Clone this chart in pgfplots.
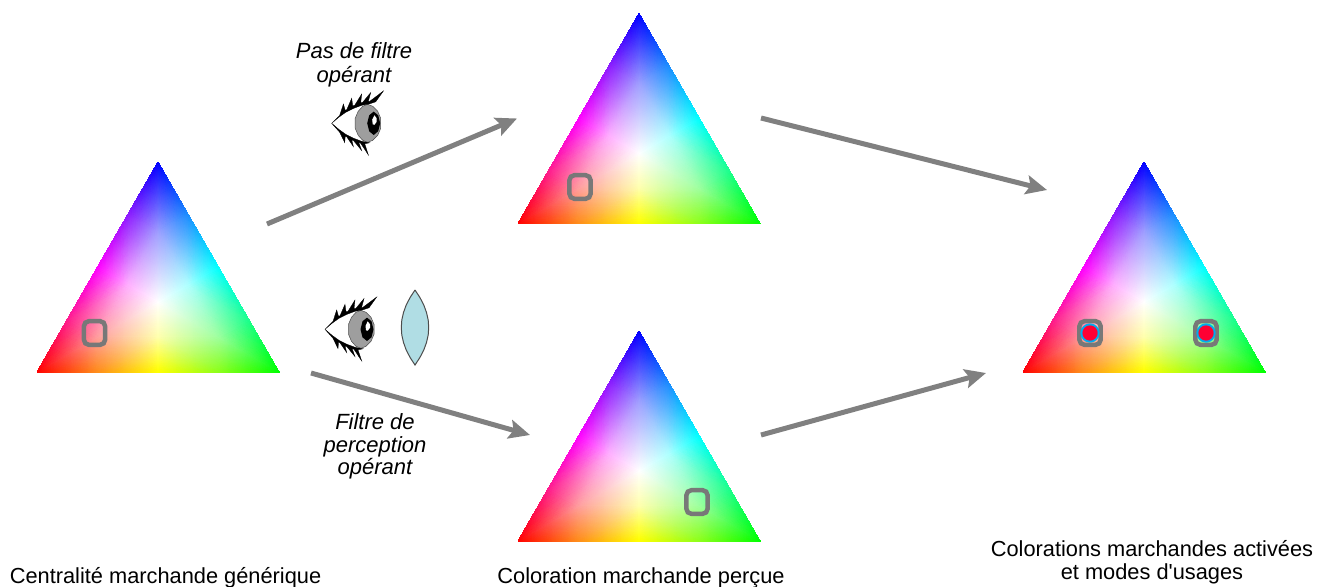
\documentclass[border=0pt]{standalone}
\usepackage{fontspec}
\setmainfont{Liberation Sans}
\usepackage{pgfplots}
\usepackage{pgfplotstable}
\pgfplotsset{compat=1.18}
\usetikzlibrary{arrows.meta}

\definecolor{arrowgray}{RGB}{128,128,128}
\definecolor{markgray}{RGB}{120,120,120}
\definecolor{lens}{RGB}{176,221,228}
\definecolor{dotred}{RGB}{255,0,51}

% colour triangle, relative to its centre (y pointing down)
% six sectors, each split in four: centre, ring, edge
\pgfplotstableread{
x y c
0 0 color=white
-60.5 35 rgb=1,.62,.62
0 35 rgb=1,1,.68
-60.5 35 rgb=1,.62,.62
-121 70 color=red
-60.5 70 rgb=1,.55,.1
-60.5 35 rgb=1,.62,.62
-60.5 70 rgb=1,.55,.1
0 35 rgb=1,1,.68
0 35 rgb=1,1,.68
-60.5 70 rgb=1,.55,.1
0 70 color=yellow
0 0 color=white
60.5 35 rgb=.62,1,.62
0 35 rgb=1,1,.68
60.5 35 rgb=.62,1,.62
121 70 color=green
60.5 70 rgb=.55,1,.1
60.5 35 rgb=.62,1,.62
60.5 70 rgb=.55,1,.1
0 35 rgb=1,1,.68
0 35 rgb=1,1,.68
60.5 70 rgb=.55,1,.1
0 70 color=yellow
0 0 color=white
60.5 35 rgb=.62,1,.62
30.25 -17.5 rgb=.68,1,1
60.5 35 rgb=.62,1,.62
121 70 color=green
90.75 17.5 rgb=.1,1,.55
60.5 35 rgb=.62,1,.62
90.75 17.5 rgb=.1,1,.55
30.25 -17.5 rgb=.68,1,1
30.25 -17.5 rgb=.68,1,1
90.75 17.5 rgb=.1,1,.55
60.5 -35 color=cyan
0 0 color=white
0 -70 rgb=.62,.62,1
30.25 -17.5 rgb=.68,1,1
0 -70 rgb=.62,.62,1
0 -140 color=blue
30.25 -87.5 rgb=.1,.55,1
0 -70 rgb=.62,.62,1
30.25 -87.5 rgb=.1,.55,1
30.25 -17.5 rgb=.68,1,1
30.25 -17.5 rgb=.68,1,1
30.25 -87.5 rgb=.1,.55,1
60.5 -35 color=cyan
0 0 color=white
0 -70 rgb=.62,.62,1
-30.25 -17.5 rgb=1,.68,1
0 -70 rgb=.62,.62,1
0 -140 color=blue
-30.25 -87.5 rgb=.55,.1,1
0 -70 rgb=.62,.62,1
-30.25 -87.5 rgb=.55,.1,1
-30.25 -17.5 rgb=1,.68,1
-30.25 -17.5 rgb=1,.68,1
-30.25 -87.5 rgb=.55,.1,1
-60.5 -35 color=magenta
0 0 color=white
-60.5 35 rgb=1,.62,.62
-30.25 -17.5 rgb=1,.68,1
-60.5 35 rgb=1,.62,.62
-121 70 color=red
-90.75 17.5 rgb=1,.1,.55
-60.5 35 rgb=1,.62,.62
-90.75 17.5 rgb=1,.1,.55
-30.25 -17.5 rgb=1,.68,1
-30.25 -17.5 rgb=1,.68,1
-90.75 17.5 rgb=1,.1,.55
-60.5 -35 color=magenta
}\tritable

% eye, relative to the corner of the eye
\pgfplotstableread{
x y
0 0
7 -6
14 -11
22 -15
30 -18
38 -19
38 19
30 18
22 15
14 11
7 6
0 0
}\eyewhite
\pgfplotstableread{
x y
36 -19
31 -17
26.5 -12
23.5 -5
23.5 5
26.5 12
31 17
36 19
41 17
46 12
49 5
49 -5
46 -12
41 -17
36 -19
}\eyeiris
\pgfplotstableread{
x y
42 -11.7
37.5 -8
35.5 0
37.5 8
42 11.7
46.5 8
48.5 0
46.5 -8
42 -11.7
}\eyepupil
\pgfplotstableread{
x y
42.7 -8
40.5 -3.5
41 1
42.7 1.5
45 -1.5
45 -5
42.7 -8
}\eyeglint
\pgfplotstableread{
x y
0 0
7 -6
14 -11
22 -15
30 -18
38 -19.5
44 -21.5
51.7 -32.3
38 -22
36.5 -21.5
39 -30.7
31 -21
29 -20.5
30 -29.3
23 -18
21 -17.5
20 -25
15 -13.5
13.5 -13
11.7 -19.3
8 -8
0 0
}\eyeupper
\pgfplotstableread{
x y
0 0
7 6
14 11
22 15
30 18
38 19.5
33 20.5
36.7 31.7
29 20
27 19
30 27.3
22 17.5
20 16.5
21.7 23.3
15 13.5
13.5 13
13 19.3
8 9
0 0
}\eyelower

\pgfdeclareplotmark{rsq}{%
  \pgfpathmoveto{\pgfpoint{0pt}{-11.8pt}}%
  \pgfpathlineto{\pgfpoint{5.6pt}{-11.8pt}}%
  \pgfpathcurveto{\pgfpoint{8.4pt}{-11.8pt}}{\pgfpoint{10.6pt}{-9.6pt}}{\pgfpoint{10.6pt}{-6.8pt}}%
  \pgfpathlineto{\pgfpoint{10.6pt}{6.8pt}}%
  \pgfpathcurveto{\pgfpoint{10.6pt}{9.6pt}}{\pgfpoint{8.4pt}{11.8pt}}{\pgfpoint{5.6pt}{11.8pt}}%
  \pgfpathlineto{\pgfpoint{-5.6pt}{11.8pt}}%
  \pgfpathcurveto{\pgfpoint{-8.4pt}{11.8pt}}{\pgfpoint{-10.6pt}{9.6pt}}{\pgfpoint{-10.6pt}{6.8pt}}%
  \pgfpathlineto{\pgfpoint{-10.6pt}{-6.8pt}}%
  \pgfpathcurveto{\pgfpoint{-10.6pt}{-9.6pt}}{\pgfpoint{-8.4pt}{-11.8pt}}{\pgfpoint{-5.6pt}{-11.8pt}}%
  \pgfpathclose
  \pgfusepathqstroke}

\newcommand{\colortri}[2]{%
  \addplot[patch, shader=interp, mesh/color input=explicit]
    table[x expr=\thisrow{x}+#1, y expr=\thisrow{y}+#2, meta=c] {\tritable};}
\newcommand{\eyepart}[4]{%
  \addplot[#4] table[x expr=\thisrow{x}+#2, y expr=\thisrow{y}+#3] {#1};}
\newcommand{\eye}[2]{%
  \eyepart{\eyewhite}{#1}{#2}{fill=white, draw=none}
  \eyepart{\eyeiris}{#1}{#2}{fill=black!38, draw=black!70, line width=0.5pt}
  \eyepart{\eyepupil}{#1}{#2}{fill=black, draw=none}
  \eyepart{\eyeglint}{#1}{#2}{fill=white, draw=none}
  \eyepart{\eyeupper}{#1}{#2}{fill=black, draw=black, line width=0.3pt}
  \eyepart{\eyelower}{#1}{#2}{fill=black, draw=black, line width=0.3pt}}
\newcommand{\lbl}{\fontsize{21.8}{26}\selectfont}
\newcommand{\lbli}{\fontsize{22}{26}\selectfont\itshape}

\begin{document}
\begin{tikzpicture}
\path[use as bounding box] (0,0) rectangle (1329pt,586pt);
\begin{axis}[
    at={(0,0)}, anchor=south west,
    scale only axis,
    width=1329pt,
    height=586pt,
    xmin=0, xmax=1329,
    ymin=0, ymax=586,
    y dir=reverse,
    axis lines=none,
    ticks=none,
    clip=false,
]
\colortri{158}{302}
\colortri{639}{153.5}
\colortri{639}{471}
\colortri{1144}{302}

% arrows
\addplot[arrowgray, line width=5pt, -{Stealth[length=21pt,width=19pt,inset=4pt]}] coordinates {(267,224) (517,118.5)};
\addplot[arrowgray, line width=5pt, -{Stealth[length=21pt,width=19pt,inset=4pt]}] coordinates {(311,373) (530,435)};
\addplot[arrowgray, line width=5pt, -{Stealth[length=21pt,width=19pt,inset=4pt]}] coordinates {(761,118) (1047,190)};
\addplot[arrowgray, line width=5pt, -{Stealth[length=21pt,width=19pt,inset=4pt]}] coordinates {(761,435) (986,373)};

% selection squares
\addplot[only marks, mark=rsq, mark options={draw=markgray, line width=4.5pt, fill=none}] coordinates {(94.5,333) (580,187) (697,502) (1090,333) (1206,333)};
\addplot[only marks, mark=*, mark size=9.5pt, mark options={draw=cyan, line width=0.1pt, fill=cyan}] coordinates {(1090,333) (1206,333)};
\addplot[only marks, mark=*, mark size=7.5pt, mark options={draw=dotred, line width=0.1pt, fill=dotred}] coordinates {(1090,333) (1206,333)};

\eye{331.7}{123.3}
\eye{325}{329.3}

% lens
\addplot[fill=lens, draw=black!70, line width=1pt] coordinates {
  (415,290) (419.9,297.5) (423.8,305) (426.5,312.5) (428.2,320) (428.7,327.5)
  (428.2,335) (426.5,342.5) (423.8,350) (419.9,357.5) (415,365)
  (410.1,357.5) (406.2,350) (403.5,342.5) (401.8,335) (401.3,327.5)
  (401.8,320) (403.5,312.5) (406.2,305) (410.1,297.5) (415,290)};

\node[anchor=base, font=\lbli] at (axis cs:354,59) {Pas de filtre};
\node[anchor=base, font=\lbli] at (axis cs:354,82) {opérant};
\node[anchor=base, font=\lbli] at (axis cs:375,429) {Filtre de};
\node[anchor=base, font=\lbli] at (axis cs:375,452) {perception};
\node[anchor=base, font=\lbli] at (axis cs:375,474) {opérant};

\node[anchor=base, font=\lbl] at (axis cs:165.5,583) {Centralité marchande générique};
\node[anchor=base, font=\lbl] at (axis cs:641,583) {Coloration marchande perçue};
\node[anchor=base, font=\lbl] at (axis cs:1152,556.5) {Colorations marchandes activées};
\node[anchor=base, font=\lbl] at (axis cs:1152,579) {et modes d\textquotesingle usages};
\end{axis}
\end{tikzpicture}
\end{document}
